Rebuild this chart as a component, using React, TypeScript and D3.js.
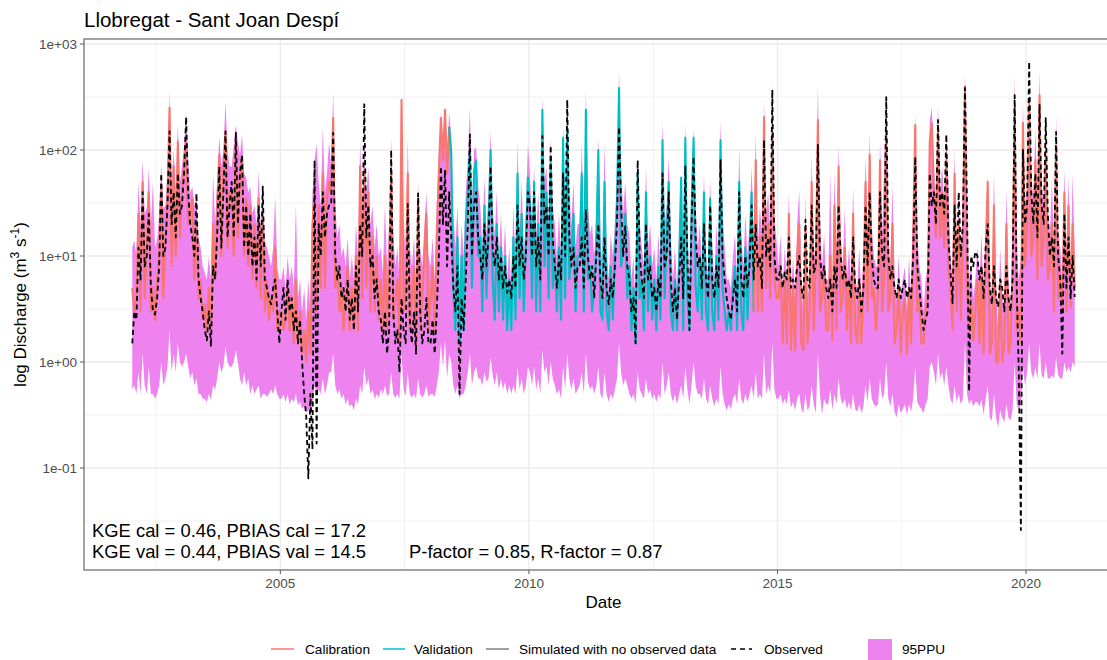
import React from "react";
import * as d3 from "d3";

// ---- data: two samples per month (peak-ish / base-ish), Jan 2002 .. Dec 2020 ----
const START_YEAR = 2002;
const SAMPLES_PER_YEAR = 24;

const observed = [
  1.5, 3, 2.5, 12, 6, 40, 8, 10, 25, 5, 3, 2.8, 4, 8, 60, 10, 12, 30, 150, 20, 40, 15, 60, 25, // 2002
  30, 60, 205, 40, 20, 15, 10, 39, 6, 4, 3, 2, 1.6, 3, 1.4, 8, 6, 16, 70, 12, 40, 150, 15, 30, // 2003
  50, 15, 145, 20, 60, 90, 12, 30, 10, 25, 8, 15, 6, 30, 8, 45, 6, 5, 4, 3.5, 5, 6, 3, 1.5, // 2004
  3, 5, 2.5, 6, 3, 4, 2, 3, 1.5, 2.5, 1, 0.5, 0.3, 0.08, 0.5, 0.15, 80, 0.17, 20, 10, 40, 15, 25, 30, // 2005
  30, 145, 10, 6, 8, 4, 5, 3, 6, 2.5, 4, 2, 8, 3, 20, 10, 270, 15, 30, 8, 10, 4, 6, 3, // 2006
  2.5, 1.5, 3, 1.2, 2, 100, 3, 1.5, 2, 0.8, 4, 2, 1.5, 31, 2.5, 1.5, 3, 1.2, 39, 3, 1.5, 2, 4, 1.5, // 2007
  1.5, 2.5, 1.2, 3, 10, 70, 20, 65, 8, 40, 15, 5, 3, 8, 0.5, 4, 2, 6, 20, 140, 10, 30, 40, 15, // 2008
  10, 6, 20, 8, 15, 70, 12, 8, 15, 6, 10, 5, 8, 4.5, 6, 4, 10, 5, 30, 8, 15, 6, 10, 40, // 2009
  30, 10, 40, 8, 15, 6, 135, 20, 30, 10, 110, 15, 8, 5, 10, 6, 60, 10, 297, 15, 8, 12, 5, 8, // 2010
  8, 15, 5, 27, 10, 6, 8, 4, 10, 20, 6, 4, 15, 5, 3.5, 6, 4, 8, 20, 165, 30, 10, 19, 8, // 2011
  6, 3, 4, 1.5, 80, 10, 6, 4, 20, 6, 8, 4, 5, 3, 6, 4, 60, 8, 10, 40, 6, 3, 5, 2.5, // 2012
  6, 15, 4, 70, 10, 2, 20, 86, 15, 8, 10, 5, 20, 6, 4, 30, 6, 4, 8, 5, 80, 10, 6, 4, // 2013
  3, 2.5, 4, 6, 3, 40, 6, 4, 10, 5, 8, 30, 6, 20, 8, 10, 5, 124, 10, 15, 8, 370, 10, 6, // 2014
  6, 8, 5, 7, 6, 15, 5, 6, 5, 8, 10, 5, 4, 22, 6, 5, 30, 7, 8, 112, 10, 6, 8, 5, // 2015
  4, 6, 3, 8, 5, 30, 10, 6, 8, 5, 6, 4, 15, 5, 4, 6, 3, 5, 30, 8, 40, 10, 6, 5, // 2016
  5, 40, 10, 8, 316, 10, 6, 8, 5, 4, 6, 4, 5, 6, 4, 5, 4, 10, 86, 8, 5, 3, 2, 2.5, // 2017
  3, 60, 30, 40, 20, 192, 30, 40, 25, 140, 15, 7, 3.6, 30, 8, 40, 10, 20, 385, 30, 0.53, 10, 8, 11, // 2018
  10, 6, 8, 4, 12, 20, 5, 3.5, 8, 4, 3.3, 6, 5, 3, 8, 4, 3, 6, 330, 5, 0.8, 0.026, 100, 20, // 2019
  30, 680, 40, 20, 60, 15, 266, 30, 20, 200, 25, 10, 15, 8, 148, 10, 6, 1.2, 25, 5, 15, 4, 10, 4.1, // 2020
];

const simulated = [
  5, 3, 4, 25, 3, 50, 4, 12, 40, 3, 5, 2.5, 6, 10, 45, 4, 15, 35, 250, 8, 70, 10, 120, 15, // 2002
  40, 70, 120, 20, 25, 35, 6, 20, 4, 6, 2.5, 3.5, 2, 5, 2, 20, 6, 30, 90, 10, 60, 150, 12, 40, // 2003
  40, 10, 110, 15, 60, 80, 10, 35, 8, 30, 6, 20, 5, 35, 4, 25, 3, 6, 2.5, 4, 3, 12, 2, 3, // 2004
  3, 2, 2.5, 5, 2, 4, 1.5, 6, 1.5, 3, 1.2, 2, 1, 3, 1.2, 20, 40, 3, 30, 5, 60, 5, 35, 50, // 2005
  40, 200, 5, 8, 3, 5, 2, 4, 8, 2, 5, 2, 10, 2, 70, 4, 60, 5, 40, 3, 15, 3, 10, 2.5, // 2006
  6, 2, 10, 2, 8, 60, 2.5, 4, 6, 1.5, 297, 3, 5, 60, 2, 4, 8, 1.5, 35, 2, 4, 10, 25, 2, // 2007
  4, 8, 2, 15, 60, 200, 80, 240, 60, 165, 93, 5, 2, 15, 1.5, 10, 2, 20, 40, 100, 5, 60, 80, 10, // 2008
  15, 3, 30, 4, 20, 100, 6, 2.5, 20, 3, 12, 2.5, 10, 2, 6, 2, 15, 2.5, 60, 4, 25, 3, 12, 55, // 2009
  30, 4, 50, 3, 20, 3, 240, 8, 40, 4, 80, 5, 10, 3, 12, 2.5, 130, 4, 150, 6, 10, 25, 3, 10, // 2010
  10, 60, 3, 240, 6, 8, 3, 5, 12, 100, 3, 2.5, 50, 3, 2, 8, 2.5, 10, 30, 385, 8, 12, 25, 4, // 2011
  8, 2, 5, 1.5, 60, 4, 6, 2, 40, 3, 10, 2.5, 6, 2, 8, 2.5, 124, 4, 15, 50, 3, 2, 6, 2, // 2012
  8, 55, 2, 130, 4, 2, 25, 130, 5, 3, 10, 2.5, 40, 3, 2, 35, 3, 2, 10, 2.5, 124, 5, 3, 2, // 2013
  3, 2, 5, 8, 2, 50, 3, 2, 12, 2.5, 10, 40, 3, 80, 3, 15, 3, 205, 5, 20, 4, 150, 6, 4, // 2014
  4, 8, 1.5, 6, 1.5, 25, 1.3, 5, 1.3, 10, 20, 1.5, 1.3, 18, 1.5, 3, 50, 2, 8, 192, 3, 4, 8, 2, // 2015
  2, 10, 1.6, 30, 2, 70, 3, 4, 12, 2, 6, 1.5, 25, 2, 1.5, 6, 1.5, 5, 50, 3, 90, 4, 5, 2, // 2016
  4, 80, 3, 6, 150, 3, 4, 20, 1.5, 2, 5, 1.2, 3, 4, 1.2, 5, 1.5, 15, 172, 3, 4, 1.5, 1.5, 3, // 2017
  4, 120, 180, 40, 15, 150, 15, 40, 12, 80, 8, 5, 2, 60, 3, 20, 2.5, 15, 400, 5, 2, 4, 1.6, 3, // 2018
  6, 1.5, 8, 1.2, 10, 50, 1.2, 1.5, 30, 1, 1, 6, 1, 1.5, 20, 1.2, 1.5, 8, 250, 2, 3, 1.5, 180, 8, // 2019
  20, 300, 10, 15, 80, 6, 330, 8, 15, 90, 6, 8, 20, 3, 110, 4, 6, 3, 40, 3, 30, 3.3, 20, 5, // 2020
];

const ppuUpper = [
  12, 14, 10, 49, 20, 82, 25, 28, 68, 20, 51, 12, 14, 25, 74, 28, 30, 60, 360, 50, 100, 40, 176, 50, // 2002
  70, 110, 230, 80, 40, 45, 30, 35, 15, 12, 8, 7, 6, 10, 6, 60, 20, 50, 135, 70, 100, 283, 100, 70, // 2003
  70, 110, 172, 120, 90, 140, 60, 55, 40, 45, 25, 30, 20, 63, 18, 40, 14, 12, 10, 8, 12, 37, 8, 6, // 2004
  6, 8, 5, 10, 6, 8, 5, 31, 4, 6, 3, 5, 2.5, 6, 3, 40, 80, 114, 50, 30, 165, 40, 60, 120, // 2005
  70, 350, 30, 15, 20, 10, 12, 8, 15, 6, 10, 6, 20, 10, 122, 30, 120, 40, 68, 20, 30, 12, 20, 10, // 2006
  12, 7, 31, 8, 20, 130, 16, 8, 12, 6, 300, 20, 10, 130, 12, 8, 15, 6, 50, 12, 8, 19, 40, 10, // 2007
  8, 15, 6, 30, 90, 230, 120, 260, 90, 230, 130, 25, 12, 30, 6, 20, 10, 40, 80, 250, 30, 100, 107, 45, // 2008
  30, 12, 55, 16, 40, 150, 30, 16, 40, 10, 25, 8, 20, 6, 12, 5, 30, 8, 120, 16, 50, 10, 25, 115, // 2009
  60, 20, 70, 16, 40, 12, 316, 50, 70, 20, 130, 30, 20, 10, 25, 10, 183, 20, 300, 40, 20, 50, 12, 20, // 2010
  20, 120, 12, 370, 30, 16, 20, 10, 25, 130, 16, 8, 115, 12, 6, 16, 10, 20, 60, 570, 70, 25, 50, 20, // 2011
  16, 6, 10, 3, 86, 20, 12, 8, 70, 12, 20, 8, 12, 6, 16, 8, 192, 20, 30, 84, 16, 6, 12, 5, // 2012
  16, 55, 8, 183, 20, 5, 50, 160, 30, 12, 20, 8, 60, 10, 6, 52, 12, 6, 20, 10, 192, 25, 12, 6, // 2013
  6, 5, 10, 16, 6, 107, 16, 8, 25, 10, 20, 70, 16, 148, 12, 30, 16, 297, 25, 40, 16, 440, 24, 14, // 2014
  8, 16, 5, 12, 6, 40, 4, 10, 4, 20, 42, 6, 3, 38, 4, 6, 90, 8, 16, 410, 25, 8, 16, 6, // 2015
  6, 62, 4, 60, 10, 110, 16, 8, 28, 6, 12, 6, 45, 6, 5, 12, 4, 10, 86, 16, 145, 20, 10, 8, // 2016
  8, 124, 16, 75, 320, 16, 8, 47, 6, 4, 10, 4, 6, 8, 3, 10, 4, 30, 222, 16, 8, 6, 3, 6, // 2017
  8, 192, 255, 70, 30, 266, 40, 70, 30, 140, 52, 10, 6, 100, 8, 40, 10, 30, 530, 40, 6, 8, 4, 6, // 2018
  12, 6, 16, 4, 20, 56, 6, 3, 62, 6, 2, 12, 4, 3, 42, 6, 3, 16, 510, 12, 6, 10, 284, 30, // 2019
  40, 330, 70, 30, 160, 25, 570, 50, 30, 160, 30, 15, 52, 10, 213, 16, 12, 6, 65, 10, 56, 6, 60, 10, // 2020
];

const ppuLower = [
  0.55, 0.6, 0.5, 0.8, 0.5, 1.2, 0.6, 0.5, 0.9, 0.5, 0.5, 0.45, 0.5, 0.6, 1.0, 0.6, 0.7, 0.9, 2.0, 0.8, 1.2, 0.8, 1.5, 1.0, // 2002
  0.9, 1.0, 1.2, 0.9, 0.7, 0.8, 0.6, 0.7, 0.5, 0.5, 0.45, 0.45, 0.42, 0.5, 0.44, 0.6, 0.55, 0.7, 1.0, 0.8, 0.9, 1.4, 1.0, 0.9, // 2003
  0.9, 1.0, 1.3, 1.0, 0.7, 0.6, 0.8, 0.6, 0.7, 0.5, 0.6, 0.5, 0.55, 0.6, 0.45, 0.5, 0.5, 0.47, 0.5, 0.55, 0.5, 0.6, 0.5, 0.45, // 2004
  0.45, 0.5, 0.42, 0.5, 0.4, 0.45, 0.42, 0.5, 0.39, 0.42, 0.36, 0.38, 0.33, 0.35, 0.34, 0.4, 0.6, 0.5, 0.55, 0.5, 0.7, 0.5, 0.6, 0.8, // 2005
  0.8, 1.2, 0.6, 0.5, 0.55, 0.45, 0.5, 0.4, 0.45, 0.38, 0.4, 0.35, 0.45, 0.4, 0.6, 0.5, 0.9, 0.6, 0.7, 0.5, 0.55, 0.45, 0.5, 0.46, // 2006
  0.55, 0.5, 0.6, 0.48, 0.5, 0.8, 0.5, 0.46, 0.5, 0.45, 1.2, 0.55, 0.48, 0.8, 0.5, 0.46, 0.5, 0.45, 0.7, 0.5, 0.46, 0.5, 0.6, 0.47, // 2007
  0.5, 0.5, 0.47, 0.6, 0.8, 1.5, 0.9, 1.6, 0.7, 1.2, 1.0, 0.6, 0.5, 0.6, 0.45, 0.5, 0.5, 0.6, 0.8, 1.2, 0.6, 0.8, 0.9, 0.7, // 2008
  0.7, 0.6, 0.8, 0.65, 0.7, 1.1, 0.75, 0.6, 0.8, 0.55, 0.7, 0.55, 0.65, 0.5, 0.6, 0.5, 0.6, 0.5, 0.9, 0.55, 0.7, 0.5, 0.6, 0.9, // 2009
  0.8, 0.6, 0.9, 0.55, 0.7, 0.5, 1.3, 0.8, 0.9, 0.6, 1.0, 0.7, 0.6, 0.5, 0.55, 0.45, 0.9, 0.55, 1.2, 0.7, 0.55, 0.7, 0.5, 0.55, // 2010
  0.6, 0.8, 0.5, 1.2, 0.65, 0.55, 0.6, 0.5, 0.6, 0.9, 0.5, 0.45, 0.8, 0.5, 0.42, 0.5, 0.45, 0.55, 0.7, 1.5, 0.8, 0.6, 0.7, 0.6, // 2011
  0.5, 0.45, 0.5, 0.41, 0.8, 0.55, 0.5, 0.45, 0.7, 0.5, 0.55, 0.45, 0.5, 0.42, 0.5, 0.45, 1.0, 0.5, 0.6, 0.8, 0.5, 0.42, 0.5, 0.4, // 2012
  0.5, 0.6, 0.45, 0.9, 0.55, 0.4, 0.6, 1.0, 0.6, 0.5, 0.5, 0.45, 0.7, 0.45, 0.4, 0.6, 0.45, 0.38, 0.45, 0.4, 0.9, 0.5, 0.4, 0.35, // 2013
  0.4, 0.36, 0.45, 0.5, 0.4, 0.7, 0.45, 0.4, 0.5, 0.42, 0.5, 0.6, 0.45, 0.8, 0.45, 0.5, 0.45, 1.2, 0.5, 0.6, 0.5, 1.5, 0.55, 0.45, // 2014
  0.45, 0.5, 0.4, 0.45, 0.4, 0.55, 0.37, 0.42, 0.35, 0.45, 0.5, 0.36, 0.33, 0.5, 0.35, 0.38, 0.6, 0.4, 0.33, 1.2, 0.5, 0.32, 0.45, 0.4, // 2015
  0.4, 0.55, 0.35, 0.5, 0.4, 0.7, 0.45, 0.4, 0.45, 0.36, 0.42, 0.35, 0.5, 0.36, 0.34, 0.4, 0.33, 0.38, 0.6, 0.42, 0.7, 0.45, 0.4, 0.38, // 2016
  0.4, 0.7, 0.45, 0.5, 1.0, 0.45, 0.38, 0.5, 0.34, 0.3, 0.4, 0.33, 0.36, 0.4, 0.32, 0.4, 0.34, 0.45, 0.9, 0.42, 0.38, 0.36, 0.33, 0.4, // 2017
  0.45, 0.9, 1.0, 0.8, 0.6, 1.2, 0.7, 0.8, 0.6, 0.9, 0.6, 0.45, 0.4, 0.6, 0.42, 0.5, 0.4, 0.45, 1.5, 0.5, 0.4, 0.44, 0.38, 0.42, // 2018
  0.42, 0.38, 0.44, 0.32, 0.45, 0.6, 0.3, 0.28, 0.5, 0.3, 0.24, 0.35, 0.3, 0.27, 0.4, 0.3, 0.28, 0.35, 1.0, 0.4, 0.35, 0.4, 0.9, 0.6, // 2019
  0.8, 1.5, 0.8, 0.7, 0.9, 0.7, 1.5, 0.75, 0.7, 1.0, 0.7, 0.7, 0.75, 0.7, 1.1, 0.75, 0.7, 0.7, 1.0, 0.8, 0.9, 0.8, 1.0, 0.9, // 2020
];

// period of the simulated series (decimal years)
const validationStart = 2008.4;
const validationEnd = 2014.54;

const periodNames = ["Calibration", "Validation", "Simulated with no observed data"];
const periodColors = ["#F8766D", "#00BFC4", "#808080"];

const xTickYears = [2005, 2010, 2015, 2020];
const xMinorYears = [2002.5, 2007.5, 2012.5, 2017.5];
const yTickValues = [0.1, 1, 10, 100, 1000];
const yTickLabels = ["1e-01", "1e+00", "1e+01", "1e+02", "1e+03"];
const yMinorValues = [10 ** -1.5, 10 ** -0.5, 10 ** 0.5, 10 ** 1.5, 10 ** 2.5];

const titleText = "Llobregat - Sant Joan Despí";
const statsCal = "KGE cal = 0.46, PBIAS cal = 17.2";
const statsVal = "KGE val = 0.44, PBIAS val = 14.5";
const statsPR = "P-factor = 0.85, R-factor = 0.87";

const FONT = "'Liberation Sans', Arial, Helvetica, sans-serif";

type Pt = { t: number; obs: number; sim: number; up: number; lo: number; period: number };

export default function App() {
  const W = 1107;
  const H = 660;
  const left = 84;
  const right = 1123;
  const top = 39;
  const bottom = 570;

  const x = d3.scaleLinear().domain([2001.05, 2021.95]).range([left, right]);
  const y = d3
    .scaleLog()
    .domain([10 ** (3 - (bottom - 44) / 106), 10 ** (3 + (44 - top) / 106)])
    .range([bottom, top]);

  const pts: Pt[] = observed.map((o, i) => {
    const t = START_YEAR + (i + 0.5) / SAMPLES_PER_YEAR;
    const period = t < validationStart ? 0 : t <= validationEnd ? 1 : 0;
    return { t, obs: o, sim: simulated[i], up: ppuUpper[i], lo: ppuLower[i], period };
  });

  // split simulated series into coloured runs
  const runs: { period: number; pts: Pt[] }[] = [];
  pts.forEach((p, i) => {
    const last = runs[runs.length - 1];
    if (!last || last.period !== p.period) {
      runs.push({ period: p.period, pts: i > 0 ? [pts[i - 1], p] : [p] });
    } else last.pts.push(p);
  });

  const area = d3
    .area<Pt>()
    .x((d) => x(d.t))
    .y0((d) => y(d.lo))
    .y1((d) => y(d.up));
  const simLine = d3
    .line<Pt>()
    .x((d) => x(d.t))
    .y((d) => y(d.sim));
  const obsLine = d3
    .line<Pt>()
    .x((d) => x(d.t))
    .y((d) => y(d.obs));

  const legendY = 649;

  return (
    <svg
      width={W}
      height={H}
      style={{ position: "absolute", left: 0, top: 0, display: "block", background: "#fff" }}
      fontFamily={FONT}
    >
      <defs>
        <clipPath id="panel">
          <rect x={left} y={top} width={right - left} height={bottom - top} />
        </clipPath>
      </defs>
      <rect x={0} y={0} width={W} height={H} fill="#fff" />

      {/* grid */}
      {yMinorValues.map((v, i) => (
        <line key={"ym" + i} x1={left} x2={right} y1={y(v)} y2={y(v)} stroke="#EBEBEB" strokeWidth={0.7} />
      ))}
      {xMinorYears.map((v, i) => (
        <line key={"xm" + i} x1={x(v)} x2={x(v)} y1={top} y2={bottom} stroke="#EBEBEB" strokeWidth={0.7} />
      ))}
      {yTickValues.map((v, i) => (
        <line key={"yg" + i} x1={left} x2={right} y1={y(v)} y2={y(v)} stroke="#EBEBEB" strokeWidth={1.3} />
      ))}
      {xTickYears.map((v, i) => (
        <line key={"xg" + i} x1={x(v)} x2={x(v)} y1={top} y2={bottom} stroke="#EBEBEB" strokeWidth={1.3} />
      ))}

      <g clipPath="url(#panel)">
        <path d={area(pts) || ""} fill="#EE82EE" stroke="none" />
        {runs.map((r, i) => (
          <path
            key={"sim" + i}
            d={simLine(r.pts) || ""}
            fill="none"
            stroke={periodColors[r.period]}
            strokeWidth={2.1}
            strokeLinejoin="round"
          />
        ))}
        <path
          d={obsLine(pts) || ""}
          fill="none"
          stroke="#000"
          strokeWidth={1.8}
          strokeDasharray="5 3.5"
          strokeLinejoin="round"
        />
      </g>

      {/* panel border */}
      <rect x={left} y={top} width={right - left} height={bottom - top} fill="none" stroke="#666" strokeWidth={1.2} />

      {/* y axis */}
      {yTickValues.map((v, i) => (
        <g key={"yt" + i}>
          <line x1={left - 4} x2={left} y1={y(v)} y2={y(v)} stroke="#666" strokeWidth={1.1} />
          <text x={left - 7} y={y(v)} dy="0.35em" textAnchor="end" fontSize={13.5} fill="#4D4D4D">
            {yTickLabels[i]}
          </text>
        </g>
      ))}
      {/* x axis */}
      {xTickYears.map((v, i) => (
        <g key={"xt" + i}>
          <line x1={x(v)} x2={x(v)} y1={bottom} y2={bottom + 4} stroke="#666" strokeWidth={1.1} />
          <text x={x(v)} y={bottom + 18} textAnchor="middle" fontSize={13.5} fill="#4D4D4D">
            {v}
          </text>
        </g>
      ))}

      {/* titles */}
      <text x={left} y={27} fontSize={20.5} fill="#000">
        {titleText}
      </text>
      <text x={(left + right) / 2} y={608} textAnchor="middle" fontSize={17} fill="#000">
        Date
      </text>
      <text transform={`translate(26,${(top + bottom) / 2}) rotate(-90)`} textAnchor="middle" fontSize={17} fill="#000">
        log Discharge (m
        <tspan dy={-7} fontSize={12}>3</tspan>
        <tspan dy={7}> s</tspan>
        <tspan dy={-7} fontSize={12}>-1</tspan>
        <tspan dy={7}>)</tspan>
      </text>

      {/* stats annotations */}
      <text x={92} y={531} dy="0.35em" fontSize={18.4} fill="#000">
        {statsCal}
      </text>
      <text x={92} y={552} dy="0.35em" fontSize={18.4} fill="#000">
        {statsVal}
      </text>
      <text x={409} y={552} dy="0.35em" fontSize={18.4} fill="#000">
        {statsPR}
      </text>

      {/* legend */}
      <g fontSize={13.6} fill="#000">
        <line x1={271} x2={294} y1={legendY} y2={legendY} stroke={periodColors[0]} strokeWidth={1.5} />
        <text x={305} y={legendY} dy="0.35em">{periodNames[0]}</text>
        <line x1={383} x2={405} y1={legendY} y2={legendY} stroke={periodColors[1]} strokeWidth={1.5} />
        <text x={414} y={legendY} dy="0.35em">{periodNames[1]}</text>
        <line x1={486} x2={509} y1={legendY} y2={legendY} stroke={periodColors[2]} strokeWidth={1.5} />
        <text x={519} y={legendY} dy="0.35em">{periodNames[2]}</text>
        <line x1={731} x2={752} y1={legendY} y2={legendY} stroke="#000" strokeWidth={1.6} strokeDasharray="5 4" />
        <text x={764} y={legendY} dy="0.35em">Observed</text>
        <rect x={868} y={639} width={24} height={23} fill="#EE82EE" />
        <text x={902} y={legendY} dy="0.35em">95PPU</text>
      </g>
    </svg>
  );
}
